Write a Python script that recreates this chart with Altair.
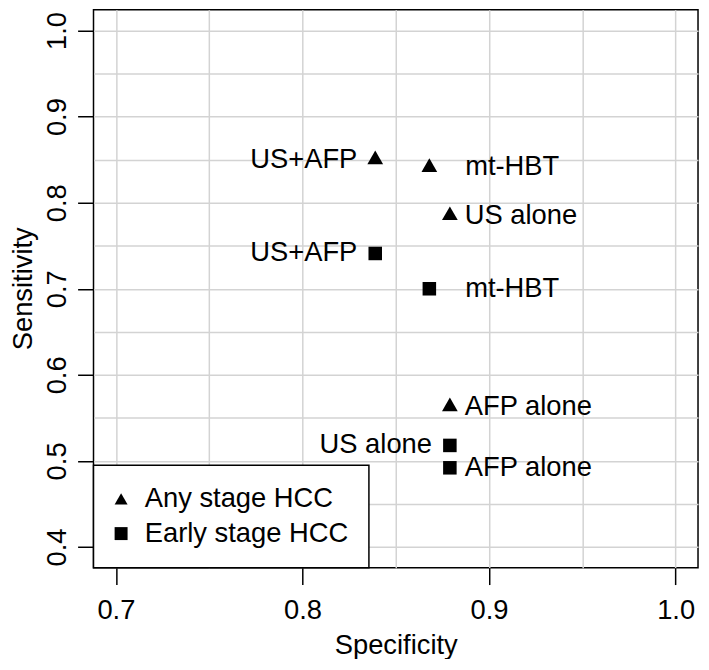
import altair as alt
import pandas as pd

# ---- data ----
methods = ["US+AFP", "mt-HBT", "US alone", "AFP alone",
           "US+AFP", "mt-HBT", "US alone", "AFP alone"]
specificity = [0.839, 0.868, 0.879, 0.879, 0.839, 0.868, 0.879, 0.879]
sensitivity = [0.850, 0.841, 0.785, 0.563, 0.741, 0.700, 0.518, 0.492]
stage = ["Any stage HCC"] * 4 + ["Early stage HCC"] * 4
label_side = ["left", "far", "right", "right", "left", "far", "left", "right"]

groups = ["Any stage HCC", "Early stage HCC"]
x_ticks = [0.70, 0.75, 0.80, 0.85, 0.90, 0.95, 1.00]
y_ticks = [0.40, 0.45, 0.50, 0.55, 0.60, 0.65, 0.70, 0.75, 0.80, 0.85, 0.90, 0.95, 1.00]
x_domain = [0.688, 1.012]
y_domain = [0.376, 1.024]

df = pd.DataFrame({
    "Method": methods,
    "Specificity": specificity,
    "Sensitivity": sensitivity,
    "Stage": stage,
    "Side": label_side,
})

FONT = "Liberation Sans"
FS = 27.5
is_major = "abs(datum.value*10 - round(datum.value*10)) < 0.01"
is_minor = "abs(datum.value*10 - round(datum.value*10)) > 0.01"

common_axis = dict(
    grid=True, gridColor="#d3d3d3", gridWidth=1.5, domain=False,
    ticks=True, tickColor="black", tickWidth=1.5,
    tickOpacity={"condition": {"test": is_minor, "value": 0}, "value": 1},
    labelExpr=f"{is_major} ? format(datum.value, '.1f') : ''",
    labelFont=FONT, labelFontSize=FS, labelColor="black",
    labelFlush=False, labelOverlap=False,
    titleFont=FONT, titleFontSize=FS, titleFontWeight="normal", titleColor="black",
)

x_axis = alt.Axis(values=x_ticks, tickSize=17, labelBaseline="alphabetic", labelPadding=34,
                  titleBaseline="alphabetic", titleAlign="center", titleX=304, titleY=86,
                  **common_axis)
y_axis = alt.Axis(values=y_ticks, tickSize=16, labelAngle=270, labelAlign="center",
                  labelBaseline="alphabetic", labelPadding=12,
                  titleAngle=270, titleBaseline="alphabetic", titleAlign="center",
                  titleX=-62, titleY=280,
                  **common_axis)

base = alt.Chart(df).encode(
    x=alt.X("Specificity:Q", title="Specificity",
            scale=alt.Scale(domain=x_domain, nice=False, zero=False), axis=x_axis),
    y=alt.Y("Sensitivity:Q", title="Sensitivity",
            scale=alt.Scale(domain=y_domain, nice=False, zero=False), axis=y_axis),
)

shape_scale = alt.Scale(domain=groups, range=["triangle-up", "square"])
legend = alt.Legend(title=None, orient="bottom-left", offset=0,
                    strokeColor="black", fillColor="white", padding=20,
                    labelFont=FONT, labelFontSize=FS, labelColor="black", labelLimit=0,
                    labelOffset=10, symbolOffset=-6, rowPadding=6, symbolSize=170,
                    symbolFillColor="black", symbolStrokeColor="black",
                    symbolStrokeWidth=0.5)

tri = base.transform_filter(alt.datum.Stage == groups[0]).mark_point(
    filled=True, color="black", opacity=1, size=250, yOffset=-2.3
).encode(shape=alt.Shape("Stage:N", scale=shape_scale, legend=legend))

sq = base.transform_filter(alt.datum.Stage == groups[1]).mark_point(
    filled=True, color="black", opacity=1, size=185
).encode(shape=alt.Shape("Stage:N", scale=shape_scale, legend=legend))

def labels(side, align, dx):
    return base.transform_filter(alt.datum.Side == side).mark_text(
        align=align, dx=dx, baseline="middle", font=FONT, fontSize=FS, color="black"
    ).encode(text="Method:N")

chart = alt.layer(
    tri, sq,
    labels("left", "right", -18),
    labels("right", "left", 15),
    labels("far", "left", 36),
).properties(
    width=608, height=561,
    autosize=alt.AutoSizeParams(type="none"),
    padding={"left": 86, "top": 0, "right": 3, "bottom": 90},
).configure(font=FONT).configure_view(stroke="black", strokeWidth=1.5
).configure_legend(strokeWidth=1.5)

chart.save("out.html", embed_options={"renderer": "svg", "actions": False})
